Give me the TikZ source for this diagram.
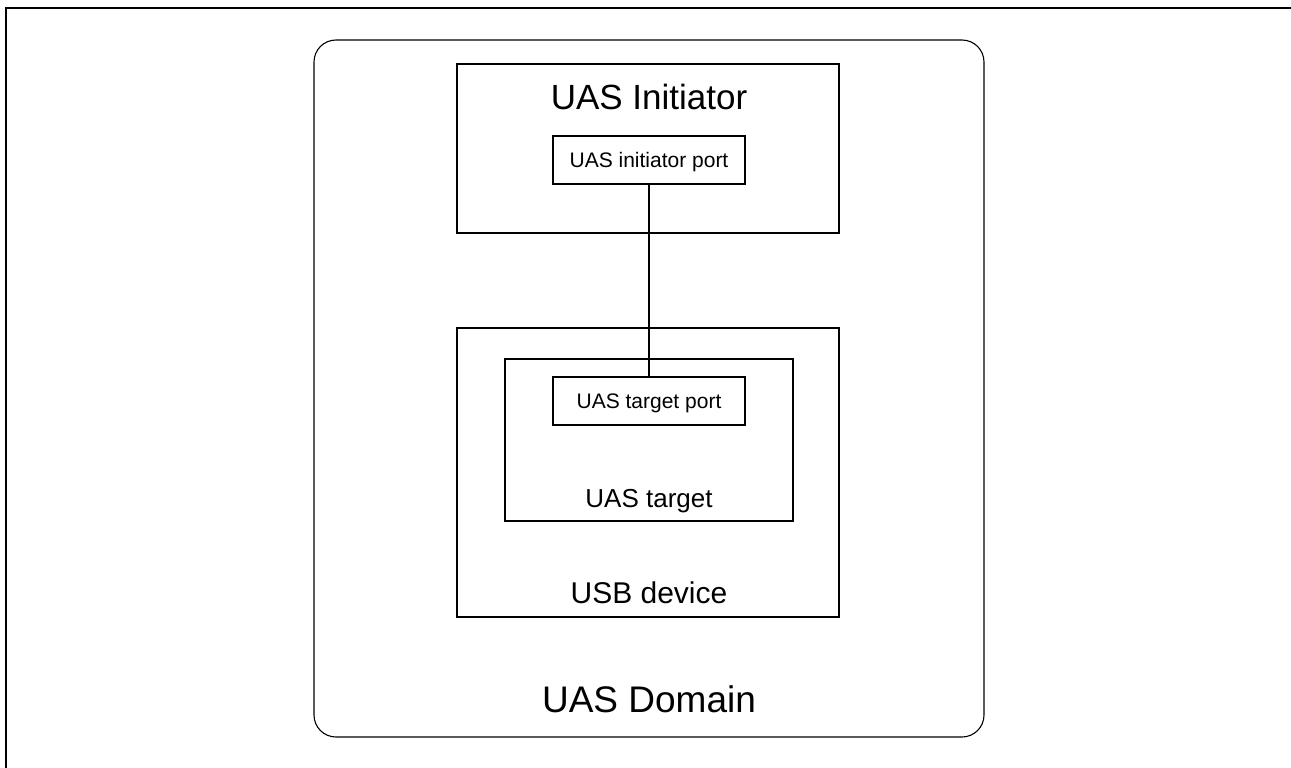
\documentclass[tikz,border=0pt]{standalone}
\usepackage{fontspec}
\setmainfont{Liberation Sans}
\begin{document}
\begin{tikzpicture}[x=1pt,y=-1pt,
  box/.style={draw=black, line width=1.1pt, rectangle, inner sep=0pt, outer sep=0pt},
  lbl/.style={anchor=base, inner sep=0pt, text=black},
  big/.style={font=\fontsize{35}{40}\selectfont},
  huge/.style={font=\fontsize{37}{42}\selectfont},
  mid/.style={font=\fontsize{30}{34}\selectfont},
  midd/.style={font=\fontsize{26}{30}\selectfont},
  small/.style={font=\fontsize{21}{25}\selectfont}]
\useasboundingbox (0,0) rectangle (1291,768);
% page frame
\coordinate (fb) at (5.8,768);
\coordinate (ftl) at (5.8,7.7);
\coordinate (ftr) at (1291,7.7);
\draw[line width=2.2pt] (fb) -- (ftl) -- (ftr);
% domain
\node[box, rounded corners=22pt, minimum width=670pt, minimum height=697pt] (domain) at (649,388.5) {};
\node[lbl, huge] (domainT) at (649,712) {UAS Domain};
% initiator
\node[box, minimum width=382pt, minimum height=169pt] (init) at (648,148.5) {};
\node[lbl, big] (initT) at (649,110) {UAS Initiator};
\node[box, minimum width=192pt, minimum height=48pt] (iport) at (649,160) {};
\node[lbl, small] (iportT) at (649,167) {UAS initiator port};
% usb device
\node[box, minimum width=382pt, minimum height=289pt] (usb) at (648,472.5) {};
\node[lbl, mid] (usbT) at (649,603) {USB device};
\node[box, minimum width=288pt, minimum height=162pt] (target) at (649,440) {};
\node[lbl, midd] (targetT) at (649,507) {UAS target};
\node[box, minimum width=192pt, minimum height=48pt] (tport) at (649,401) {};
\node[lbl, small] (tportT) at (649,408) {UAS target port};
% connector
\draw[line width=1.1pt] (iport.south) -- (tport.north);
\end{tikzpicture}
\end{document}
